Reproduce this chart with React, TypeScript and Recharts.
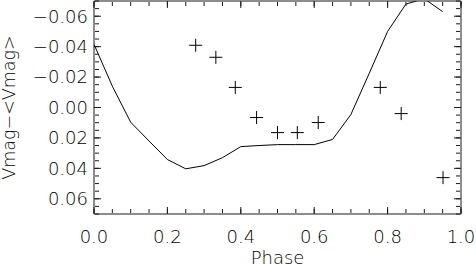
import {
  ComposedChart,
  Line,
  Scatter,
  XAxis,
  YAxis,
} from "recharts";

// light curve (model) sampled every 0.05 in phase
const curvePhase = [0, 0.05, 0.1, 0.15, 0.2, 0.25, 0.3, 0.35, 0.4, 0.45, 0.5, 0.55, 0.6, 0.65, 0.7, 0.75, 0.8, 0.85, 0.9, 0.95];
const curveMag = [-0.0415, -0.014, 0.0097, 0.022, 0.0342, 0.0403, 0.0382, 0.033, 0.0257, 0.025, 0.0244, 0.0244, 0.0244, 0.021, 0.0046, -0.0225, -0.05, -0.068, -0.0715, -0.063];

// observed points (plus markers)
const obsPhase = [0.277, 0.332, 0.385, 0.443, 0.5, 0.554, 0.611, 0.78, 0.837, 0.951];
const obsMag = [-0.0409, -0.033, -0.0132, 0.0066, 0.0165, 0.0165, 0.0099, -0.0132, 0.004, 0.0461];

const xMajor = [0, 0.2, 0.4, 0.6, 0.8, 1.0];
const xMinor = [0, 0.05, 0.1, 0.15, 0.2, 0.25, 0.3, 0.35, 0.4, 0.45, 0.5, 0.55, 0.6, 0.65, 0.7, 0.75, 0.8, 0.85, 0.9, 0.95, 1.0];
const yMajor = [-0.06, -0.04, -0.02, 0, 0.02, 0.04, 0.06];
const yMinor = [-0.07, -0.065, -0.06, -0.055, -0.05, -0.045, -0.04, -0.035, -0.03, -0.025, -0.02, -0.015, -0.01, -0.005, 0, 0.005, 0.01, 0.015, 0.02, 0.025, 0.03, 0.035, 0.04, 0.045, 0.05, 0.055, 0.06, 0.065, 0.07];

const curve = curvePhase.map((p, i) => ({ phase: p, mag: curveMag[i] }));
const obs = obsPhase.map((p, i) => ({ phase: p, mag: obsMag[i] }));

const INK = "#1a1a1a";
const TEXT = "#000";
const FONT = "'DejaVu Sans', sans-serif";

function fmtX(v: number) {
  return v.toFixed(1);
}

function fmtY(v: number) {
  return v.toFixed(2).replace("-", "\u2212");
}

function Plus(props: any) {
  const { cx, cy } = props;
  if (cx == null || cy == null) return null;
  const s = 6.5;
  return (
    <g stroke="#000" strokeWidth={1}>
      <line x1={cx - s} y1={cy} x2={cx + s} y2={cy} />
      <line x1={cx} y1={cy - s} x2={cx} y2={cy + s} />
    </g>
  );
}

function YLabel(props: any) {
  const { viewBox } = props;
  const x = viewBox.x + 15;
  const y = viewBox.y + viewBox.height / 2;
  return (
    <text
      x={x}
      y={y}
      transform={`rotate(-90, ${x}, ${y})`}
      textAnchor="middle"
      fill={TEXT}
      fontSize={17.5}
      fontWeight={200}
      fontFamily={FONT}
    >
      Vmag{"\u2212"}&lt;Vmag&gt;
    </text>
  );
}

const domX: [number, number] = [0, 1];
const domY: [number, number] = [-0.07, 0.07];

// pairs of tick-only axes; each pair gets an invisible series so the axes get drawn
const tickPairs = [
  { x: "bMaj", y: "lMaj" },
  { x: "bMin", y: "lMin" },
  { x: "tMaj", y: "rMaj" },
  { x: "tMin", y: "rMin" },
];

const noTick = () => <g />;

export default function App() {
  return (
    <div style={{ position: "absolute", left: 0, top: 0, width: 476, height: 267, background: "#fff" }}>
      <ComposedChart
        width={476}
        height={267}
        margin={{ top: 1, right: 15, bottom: 0, left: 0 }}
        style={{ fontFamily: FONT, fontWeight: 200 }}
      >
        <XAxis
          xAxisId="x"
          dataKey="phase"
          type="number"
          domain={domX}
          ticks={xMajor}
          tickFormatter={fmtX}
          allowDataOverflow
          height={53}
          tickSize={0}
          tickMargin={16}
          tickLine={false}
          axisLine={{ stroke: INK }}
          tick={{ fontSize: 18, fill: TEXT }}
          label={{ value: "Phase", position: "insideBottom", offset: 3, fontSize: 18, fill: TEXT }}
        />
        {/* inward tick marks: bottom and top */}
        <XAxis xAxisId="bMaj" dataKey="phase" type="number" domain={domX} ticks={xMajor} interval={0} allowDataOverflow mirror height={1} tick={noTick} axisLine={false} tickSize={7} tickLine={{ stroke: INK }} />
        <XAxis xAxisId="bMin" dataKey="phase" type="number" domain={domX} ticks={xMinor} interval={0} allowDataOverflow mirror height={1} tick={noTick} axisLine={false} tickSize={4} tickLine={{ stroke: INK }} />
        <XAxis xAxisId="tMaj" dataKey="phase" orientation="top" type="number" domain={domX} ticks={xMajor} interval={0} allowDataOverflow mirror height={1} tick={noTick} axisLine={{ stroke: INK }} tickSize={7} tickLine={{ stroke: INK }} />
        <XAxis xAxisId="tMin" dataKey="phase" orientation="top" type="number" domain={domX} ticks={xMinor} interval={0} allowDataOverflow mirror height={1} tick={noTick} axisLine={false} tickSize={4} tickLine={{ stroke: INK }} />

        <YAxis
          yAxisId="y"
          dataKey="mag"
          type="number"
          domain={domY}
          reversed
          allowDataOverflow
          ticks={yMajor}
          tickFormatter={fmtY}
          width={94}
          tickSize={0}
          tickMargin={6}
          tickLine={false}
          axisLine={{ stroke: INK }}
          tick={{ fontSize: 18, fill: TEXT }}
          label={<YLabel />}
        />
        {/* inward tick marks: left and right */}
        <YAxis yAxisId="lMaj" dataKey="mag" type="number" domain={domY} reversed ticks={yMajor} interval={0} allowDataOverflow mirror width={1} tick={noTick} axisLine={false} tickSize={7} tickLine={{ stroke: INK }} />
        <YAxis yAxisId="lMin" dataKey="mag" type="number" domain={domY} reversed ticks={yMinor} interval={0} allowDataOverflow mirror width={1} tick={noTick} axisLine={false} tickSize={4} tickLine={{ stroke: INK }} />
        <YAxis yAxisId="rMaj" dataKey="mag" orientation="right" type="number" domain={domY} reversed ticks={yMajor} interval={0} allowDataOverflow mirror width={1} tick={noTick} axisLine={{ stroke: INK }} tickSize={7} tickLine={{ stroke: INK }} />
        <YAxis yAxisId="rMin" dataKey="mag" orientation="right" type="number" domain={domY} reversed ticks={yMinor} interval={0} allowDataOverflow mirror width={1} tick={noTick} axisLine={false} tickSize={4} tickLine={{ stroke: INK }} />

        {tickPairs.map((p) => (
          <Line
            key={p.x}
            xAxisId={p.x}
            yAxisId={p.y}
            data={curve}
            dataKey="mag"
            stroke="none"
            dot={false}
            activeDot={false}
            legendType="none"
            isAnimationActive={false}
          />
        ))}

        <Line
          xAxisId="x"
          yAxisId="y"
          data={curve}
          dataKey="mag"
          type="linear"
          stroke="#000"
          strokeWidth={1}
          dot={false}
          activeDot={false}
          isAnimationActive={false}
        />
        <Scatter
          xAxisId="x"
          yAxisId="y"
          data={obs}
          dataKey="mag"
          shape={<Plus />}
          isAnimationActive={false}
        />
      </ComposedChart>
    </div>
  );
}
